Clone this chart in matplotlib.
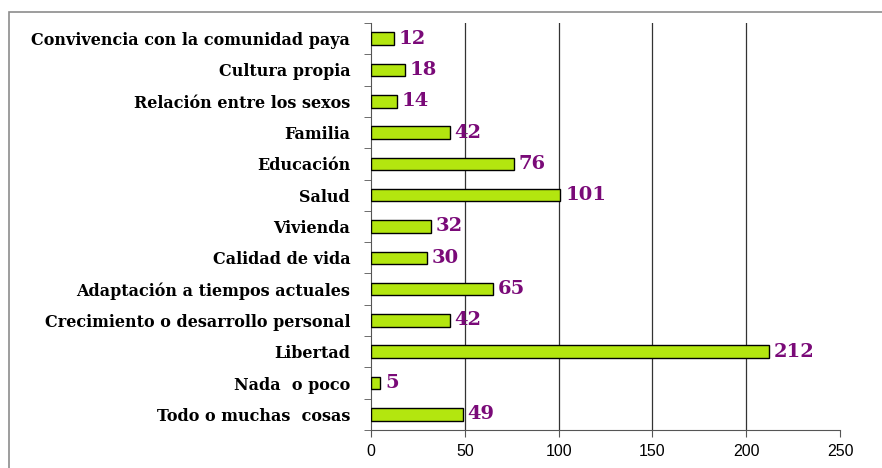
import numpy as np
import matplotlib.pyplot as plt
from matplotlib.patches import Rectangle

categorias = ["Convivencia con la comunidad paya", "Cultura propia",
              "Relación entre los sexos", "Familia", "Educación", "Salud",
              "Vivienda", "Calidad de vida", "Adaptación a tiempos actuales",
              "Crecimiento o desarrollo personal", "Libertad", "Nada  o poco",
              "Todo o muchas  cosas"]
valores = [12, 18, 14, 42, 76, 101, 32, 30, 65, 42, 212, 5, 49]
ticks_x = [0, 50, 100, 150, 200, 250]

fig = plt.figure(figsize=(8.82, 4.68), dpi=100)
ax = fig.add_axes([371 / 882, 1 - 430 / 468, (840 - 371) / 882, (430 - 23) / 468])

# marco gris alrededor del grafico
fig.add_artist(Rectangle((9 / 882, -0.1), 2, 1 - 12 / 468 + 0.1, transform=fig.transFigure,
                         fill=False, edgecolor="#8c8c8c", linewidth=1.2))

y = np.arange(len(categorias))
ax.barh(y, valores, height=0.4, color="#b3e60f", edgecolor="black", linewidth=1.0, zorder=3)

for yi, v in zip(y, valores):
    ax.text(v + 2.5, yi, str(v), va="center", ha="left", color="#7a0a78",
            fontsize=14, fontweight="bold", family="DejaVu Serif", zorder=4)

ax.set_ylim(len(categorias) - 0.5, -0.5)
ax.set_xlim(0, 250)
ax.set_yticks(y)
ax.set_yticklabels(categorias, fontsize=11.5, fontweight="bold", family="DejaVu Serif")
ax.set_yticks(np.arange(len(categorias) + 1) - 0.5, minor=True)
ax.tick_params(axis="y", which="major", length=0, pad=15)
ax.tick_params(axis="y", which="minor", length=5, direction="out", color="#555555")
ax.set_xticks(ticks_x)
ax.tick_params(axis="x", length=5, direction="out", color="#555555", labelsize=11.5, pad=5)
for lbl in ax.get_xticklabels():
    lbl.set_family("Liberation Sans")

for xv in ticks_x[1:-1]:
    ax.axvline(xv, color="#333333", linewidth=0.9, zorder=1)

for s in ["top", "right"]:
    ax.spines[s].set_visible(False)
ax.spines["left"].set_color("#555555")
ax.spines["bottom"].set_color("#555555")

fig.savefig("out.png", dpi=100)
